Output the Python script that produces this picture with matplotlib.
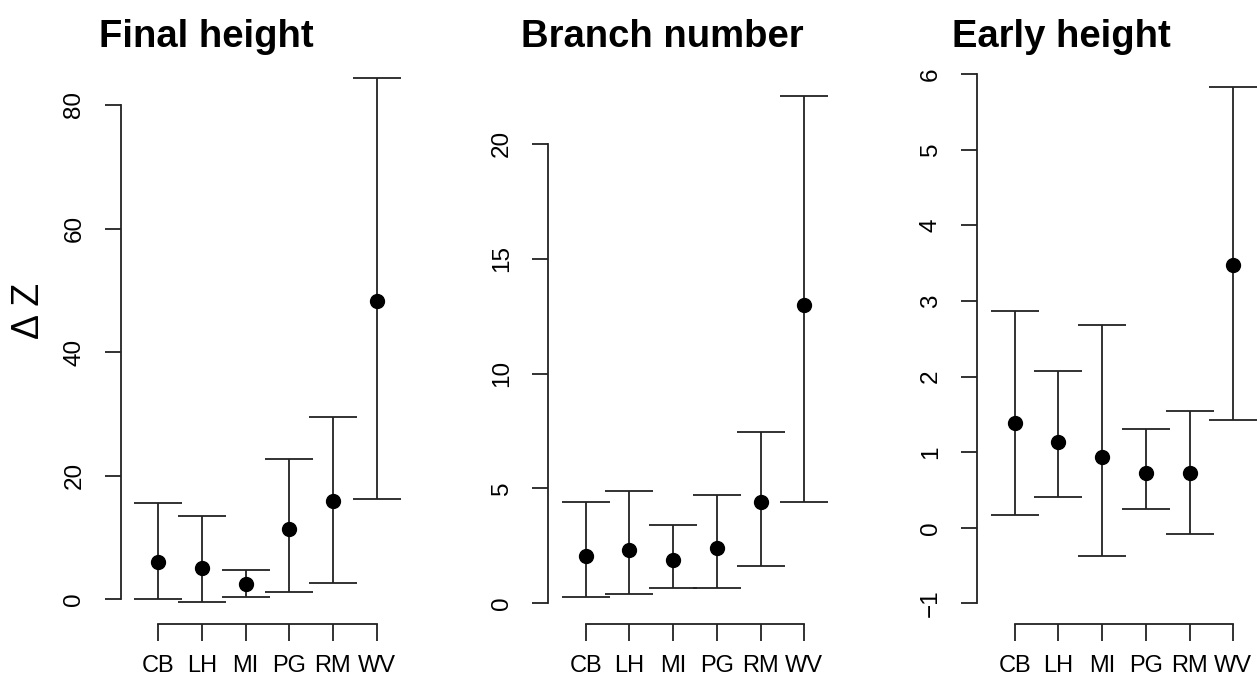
import numpy as np
import matplotlib
matplotlib.use("Agg")
import matplotlib.pyplot as plt

plt.rcParams['font.family'] = ['Liberation Sans', 'DejaVu Sans']

sites = ['CB', 'LH', 'MI', 'PG', 'RM', 'WV']

final_mean = [6.0, 5.0, 2.5, 11.4, 15.9, 48.3]
final_lo = [0.0, -0.5, 0.44, 1.2, 2.7, 16.2]
final_hi = [15.6, 13.5, 4.7, 22.7, 29.5, 84.4]
final_ticks = [0, 20, 40, 60, 80]

branch_mean = [2.08, 2.32, 1.89, 2.42, 4.39, 12.99]
branch_lo = [0.29, 0.41, 0.67, 0.65, 1.62, 4.39]
branch_hi = [4.39, 4.88, 3.40, 4.73, 7.44, 22.07]
branch_ticks = [0, 5, 10, 15, 20]

early_mean = [1.39, 1.13, 0.94, 0.72, 0.72, 3.48]
early_lo = [0.17, 0.40, -0.37, 0.25, -0.09, 1.42]
early_hi = [2.86, 2.07, 2.68, 1.30, 1.54, 5.83]
early_ticks = [-1, 0, 1, 2, 3, 4, 5, 6]

titles = ['Final height', 'Branch number', 'Early height']

W, H = 1260, 675
fig = plt.figure(figsize=(W / 100, H / 100), dpi=100)

ink = '#222222'
lw = 1.3

# layout in pixels (left edge of each panel, shared bottom/top)
lefts = [120.7, 548.3, 977.3]
bottom_px, top_px = 624, 60
px_per_cat = 43.7
xlo, xhi = 0.142, 6.6
# y limits for each panel so the ticks land where they do in the reference
ylims = [(-4.0, 87.28), (-0.901, 23.65), (-1.274, 6.187)]

panels = [
    (final_mean, final_lo, final_hi, final_ticks),
    (branch_mean, branch_lo, branch_hi, branch_ticks),
    (early_mean, early_lo, early_hi, early_ticks),
]
title_x = [206.5, 662, 1061.7]

x = np.arange(1, len(sites) + 1)
for i, (mean, lo, hi, ticks) in enumerate(panels):
    w_px = (xhi - xlo) * px_per_cat
    ax = fig.add_axes([lefts[i] / W, 1 - bottom_px / H, w_px / W, (bottom_px - top_px) / H])
    mean = np.array(mean)
    yerr = [mean - np.array(lo), np.array(hi) - mean]
    ax.errorbar(x, mean, yerr=yerr, fmt='o', color='black', ecolor=ink, elinewidth=lw,
                capsize=17.1, capthick=lw, markersize=10, clip_on=False)
    ax.set_xlim(xlo, xhi)
    ax.set_ylim(*ylims[i])
    for s in ['top', 'right']:
        ax.spines[s].set_visible(False)
    ax.spines['left'].set_bounds(ticks[0], ticks[-1])
    ax.spines['bottom'].set_bounds(1, 6)
    for s in ['left', 'bottom']:
        ax.spines[s].set_linewidth(lw)
        ax.spines[s].set_color(ink)
    ax.set_yticks(ticks)
    ax.set_yticklabels([str(t).replace('-', '\u2212') for t in ticks])
    ax.set_xticks(x)
    ax.set_xticklabels(sites)
    ax.tick_params(axis='y', labelrotation=90, length=11.5, width=lw, color=ink,
                   labelsize=17.5, pad=14)
    ax.tick_params(axis='x', length=12, width=lw, color=ink, labelsize=17, pad=10)
    for lab in ax.get_yticklabels():
        lab.set_va('center')
    fig.text(title_x[i] / W, 1 - 46.7 / H, titles[i], ha='center', va='baseline',
             fontsize=27.5, fontweight='bold')

fig.text(29 / W, 1 - 311 / H, 'Δ Z', rotation=90, ha='center', va='center', fontsize=27)

fig.savefig('out.png', dpi=100)
